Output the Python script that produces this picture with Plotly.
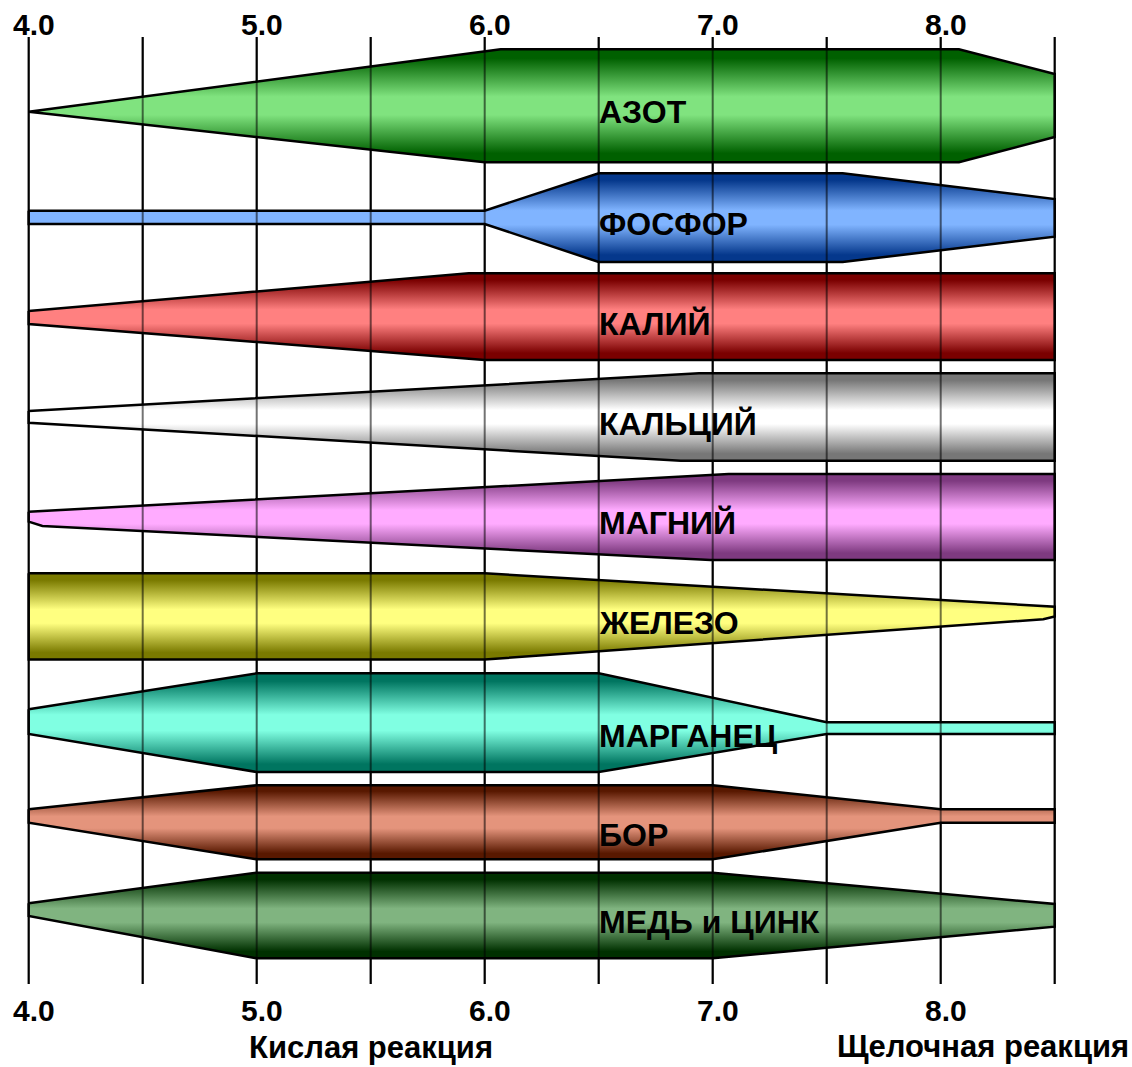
import plotly.graph_objects as go

# ---------------------------------------------------------------
# pH scale
# ---------------------------------------------------------------
PH_MIN, PH_MAX = 4.0, 8.5
GRID_PH = [4.0, 4.5, 5.0, 5.5, 6.0, 6.5, 7.0, 7.5, 8.0, 8.5]
TICK_PH = [4.0, 5.0, 6.0, 7.0, 8.0]
TICK_TEXT = ["4.0", "5.0", "6.0", "7.0", "8.0"]

ELEMENTS = ["АЗОТ", "ФОСФОР", "КАЛИЙ", "КАЛЬЦИЙ", "МАГНИЙ",
            "ЖЕЛЕЗО", "МАРГАНЕЦ", "БОР", "МЕДЬ и ЦИНК"]

# Availability outline of every nutrient.
# *_up_ph / *_up : pH breakpoints and band width above the centre line
# *_lo_ph / *_lo : pH breakpoints and band width below the centre line
azot_up_ph = [4.0, 6.07, 8.08, 8.5]
azot_up = [0.0, 62.4, 62.4, 37.7]
azot_lo_ph = [4.0, 6.0, 8.08, 8.5]
azot_lo = [0.0, 50.6, 50.6, 25.3]

fosfor_up_ph = [4.0, 6.0, 6.5, 7.57, 8.5]
fosfor_up = [6.8, 6.8, 44.2, 44.2, 18.5]
fosfor_lo_ph = [4.0, 6.0, 6.5, 7.57, 8.5]
fosfor_lo = [6.5, 6.5, 44.5, 44.5, 19.2]

kaliy_up_ph = [4.0, 5.93, 8.5]
kaliy_up = [6.5, 44.2, 44.2]
kaliy_lo_ph = [4.0, 6.0, 8.5]
kaliy_lo = [6.5, 42.5, 42.5]

kalciy_up_ph = [4.0, 6.94, 8.5]
kalciy_up = [5.8, 43.5, 43.5]
kalciy_lo_ph = [4.0, 6.86, 8.5]
kalciy_lo = [5.9, 43.9, 43.9]

magniy_up_ph = [4.0, 7.07, 8.5]
magniy_up = [4.3, 42.0, 42.0]
magniy_lo_ph = [4.0, 4.06, 6.99, 8.5]
magniy_lo = [5.7, 10.0, 44.0, 44.0]

zhelezo_up_ph = [4.0, 6.0, 8.5]
zhelezo_up = [43.0, 43.0, 9.6]
zhelezo_lo_ph = [4.0, 6.0, 8.45, 8.5]
zhelezo_lo = [43.2, 43.2, 3.0, 0.2]

marganec_up_ph = [4.0, 5.0, 6.5, 7.5, 8.5]
marganec_up = [18.7, 54.7, 54.7, 5.7, 5.7]
marganec_lo_ph = [4.0, 5.0, 6.5, 7.5, 8.5]
marganec_lo = [6.0, 44.0, 44.0, 6.0, 6.0]

bor_up_ph = [4.0, 5.0, 7.0, 8.0, 8.5]
bor_up = [6.7, 30.7, 30.7, 6.7, 6.7]
bor_lo_ph = [4.0, 5.0, 7.0, 8.0, 8.5]
bor_lo = [6.7, 43.3, 43.3, 6.7, 6.7]

med_up_ph = [4.0, 5.0, 7.0, 8.5]
med_up = [6.4, 37.0, 37.0, 5.7]
med_lo_ph = [4.0, 5.0, 7.0, 8.5]
med_lo = [6.3, 48.6, 48.6, 17.0]

OUTLINES = [
    (azot_up_ph, azot_up, azot_lo_ph, azot_lo),
    (fosfor_up_ph, fosfor_up, fosfor_lo_ph, fosfor_lo),
    (kaliy_up_ph, kaliy_up, kaliy_lo_ph, kaliy_lo),
    (kalciy_up_ph, kalciy_up, kalciy_lo_ph, kalciy_lo),
    (magniy_up_ph, magniy_up, magniy_lo_ph, magniy_lo),
    (zhelezo_up_ph, zhelezo_up, zhelezo_lo_ph, zhelezo_lo),
    (marganec_up_ph, marganec_up, marganec_lo_ph, marganec_lo),
    (bor_up_ph, bor_up, bor_lo_ph, bor_lo),
    (med_up_ph, med_up, med_lo_ph, med_lo),
]

# ---------------------------------------------------------------
# Layout / styling
# ---------------------------------------------------------------
W, H = 1132, 1067
ROW_CENTER = [111.7, 217.5, 317.5, 416.8, 516.0, 616.3, 728.0, 816.0, 909.7]
LABEL_Y = [111.7, 224.0, 324.0, 424.0, 523.3, 622.5, 735.7, 835.0, 922.0]

# (edge colour, centre colour) of the cylinder-like shading
SHADES = [
    ("#006000", "#80E37F"),
    ("#05388C", "#80B4FF"),
    ("#7A0000", "#FF8080"),
    ("#777777", "#FFFFFF"),
    ("#7E3A80", "#FFABFF"),
    ("#7A7A00", "#FFFF80"),
    ("#007560", "#80FFE2"),
    ("#581800", "#E4947C"),
    ("#003000", "#80B480"),
]

GRID_TOP, GRID_BOTTOM = 37, 984
FONT = "Arial, 'Liberation Sans', sans-serif"

# x range chosen so that pH 4.0 .. 8.5 spans the drawing width
PX_PER_PH = 228.0
X_LEFT_PX = 28.7
x_range = [PH_MIN - X_LEFT_PX / PX_PER_PH, PH_MIN + (W - X_LEFT_PX) / PX_PER_PH]

fig = go.Figure()

for name, (u_ph, u_w, l_ph, l_w), c, (dark, light) in zip(ELEMENTS, OUTLINES, ROW_CENTER, SHADES):
    xs = list(u_ph) + list(reversed(l_ph))
    ys = [c - w for w in u_w] + [c + w for w in reversed(l_w)]
    xs.append(xs[0])
    ys.append(ys[0])
    fig.add_trace(go.Scatter(
        x=xs, y=ys, mode="lines", fill="toself",
        fillgradient=dict(
            type="vertical",
            colorscale=[[0.0, dark], [0.08, dark], [0.42, light], [0.58, light],
                        [0.92, dark], [1.0, dark]],
        ),
        line=dict(color="black", width=2.5),
        hoverinfo="skip", showlegend=False, name=name,
    ))

shapes = []
for ph in GRID_PH:
    # solid grid line behind the bands
    shapes.append(dict(type="line", xref="x", yref="y", x0=ph, x1=ph,
                       y0=GRID_TOP, y1=GRID_BOTTOM, layer="below",
                       line=dict(color="black", width=2)))
    # translucent pass on top so the line shows through the bands
    shapes.append(dict(type="line", xref="x", yref="y", x0=ph, x1=ph,
                       y0=GRID_TOP, y1=GRID_BOTTOM, layer="above",
                       line=dict(color="rgba(0,0,0,0.55)", width=2)))

annotations = []
for ph, txt in zip(TICK_PH, TICK_TEXT):
    for yy in (24.2, 1010.5):
        annotations.append(dict(x=ph, y=yy, xref="x", yref="y", text=txt,
                                showarrow=False, xanchor="center", yanchor="middle",
                                xshift=5.5,
                                font=dict(family=FONT, size=30, color="black", weight="bold")))

for name, ly in zip(ELEMENTS, LABEL_Y):
    annotations.append(dict(x=6.5, y=ly, xref="x", yref="y", text=name,
                            showarrow=False, xanchor="left", yanchor="middle",
                            xshift=-2,
                            font=dict(family=FONT, size=32, color="black", weight="bold")))

annotations.append(dict(x=5.5, y=1047, xref="x", yref="y", text="Кислая реакция",
                        showarrow=False, xanchor="center", yanchor="middle",
                        font=dict(family=FONT, size=31, color="black", weight="bold")))
annotations.append(dict(x=1131 / W, y=1046, xref="paper", yref="y", text="Щелочная реакция",
                        showarrow=False, xanchor="right", yanchor="middle",
                        font=dict(family=FONT, size=31, color="black", weight="bold")))

fig.update_layout(
    width=W, height=H,
    margin=dict(l=0, r=0, t=0, b=0),
    paper_bgcolor="white", plot_bgcolor="white",
    xaxis=dict(range=x_range, visible=False, fixedrange=True),
    yaxis=dict(range=[H, 0], visible=False, fixedrange=True),
    shapes=shapes, annotations=annotations,
    showlegend=False,
)

fig.write_html("out.html")
